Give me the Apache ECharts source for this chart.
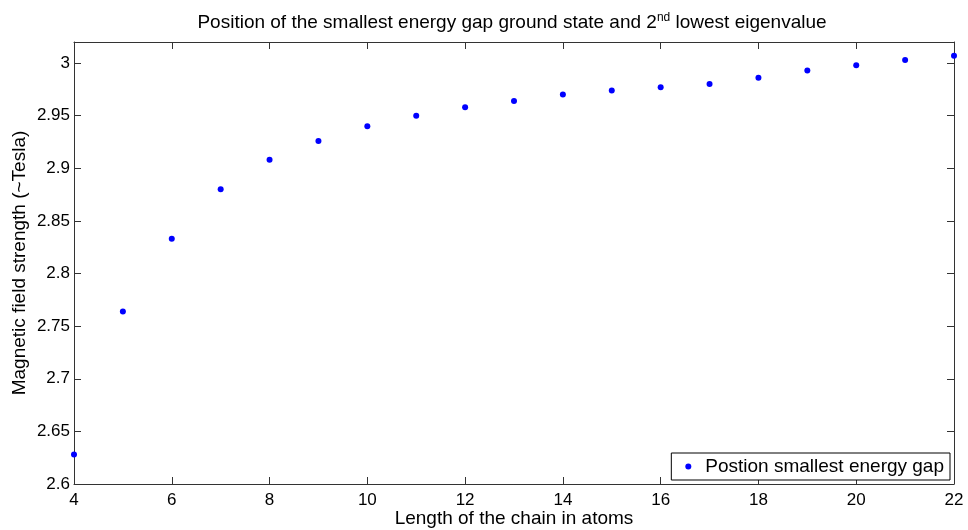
<!DOCTYPE html>
<html>
<head>
<meta charset="utf-8">
<script src="https://cdn.jsdelivr.net/npm/echarts@6/dist/echarts.min.js"></script>
<style>html,body{margin:0;padding:0;background:#fff}#c{width:968px;height:530px}</style>
</head>
<body>
<div id="c"></div>
<script>
var chainLength = [4, 5, 6, 7, 8, 9, 10, 11, 12, 13, 14, 15, 16, 17, 18, 19, 20, 21, 22];
var fieldStrength = [2.628, 2.764, 2.833, 2.880, 2.908, 2.926, 2.940, 2.950, 2.958, 2.964, 2.970, 2.974, 2.977, 2.980, 2.986, 2.993, 2.998, 3.003, 3.007];
var seriesName = 'Postion smallest energy gap';
var xTitle = 'Length of the chain in atoms';
var yTitle = 'Magnetic field strength (~Tesla)';

var font = 'Liberation Sans, Arial, sans-serif';
var axisColor = '#333';
var chart = echarts.init(document.getElementById('c'), null, {renderer: 'canvas'});
var pts = chainLength.map(function (x, i) { return [x, fieldStrength[i]]; });
function yFmt(v) {
  var k = Math.round(v / 0.05);
  if (Math.abs(v - k * 0.05) > 1e-6) return '';
  return String(Math.round(v * 100) / 100);
}
chart.setOption({
  animation: false,
  backgroundColor: '#fff',
  title: {
    text: '{a|Position of the smallest energy gap ground state and 2}{s|nd}{a| lowest eigenvalue}',
    left: 507, top: 6, textAlign: 'center',
    textStyle: {
      fontWeight: 'normal',
      rich: {
        a: {fontFamily: font, fontSize: 19, fontWeight: 'normal', color: '#000', lineHeight: 24},
        s: {fontFamily: font, fontSize: 12, fontWeight: 'normal', color: '#000', padding: [0, 0, 10, 0], lineHeight: 24}
      }
    }
  },
  grid: {left: 74, right: 14, top: 42, bottom: 46, outerBoundsMode: 'none', containLabel: false},
  legend: {
    right: 18, top: 453,
    data: [seriesName],
    icon: 'circle', itemWidth: 6, itemHeight: 6,
    padding: [4, 6, 4, 14],
    borderColor: '#000', borderWidth: 1, backgroundColor: '#fff',
    textStyle: {fontFamily: font, fontSize: 19, color: '#000', padding: [0, 0, 0, 9]}
  },
  xAxis: [{
    type: 'value', min: 4, max: 22, interval: 2, position: 'bottom',
    name: xTitle, nameLocation: 'middle', nameGap: 25, nameMoveOverlap: false,
    nameTextStyle: {fontFamily: font, fontSize: 19, color: '#000'},
    axisLine: {show: true, lineStyle: {color: axisColor, width: 1}},
    axisTick: {show: true, inside: true, length: 7, lineStyle: {color: axisColor}},
    axisLabel: {fontFamily: font, fontSize: 17, color: '#000', margin: 8},
    splitLine: {show: false}
  }, {
    type: 'value', min: 4, max: 22, interval: 2, position: 'top',
    axisLine: {show: true, lineStyle: {color: axisColor, width: 1}},
    axisTick: {show: true, inside: true, length: 7, lineStyle: {color: axisColor}},
    axisLabel: {show: false}, splitLine: {show: false}
  }],
  yAxis: [{
    type: 'value', min: 2.6, max: 3.02, interval: 0.05, position: 'left',
    name: yTitle, nameLocation: 'middle', nameGap: 45, nameMoveOverlap: false,
    nameTextStyle: {fontFamily: font, fontSize: 19, color: '#000'},
    axisLine: {show: true, lineStyle: {color: axisColor, width: 1}},
    axisTick: {show: true, inside: true, length: 7, lineStyle: {color: axisColor}},
    axisLabel: {fontFamily: font, fontSize: 17, color: '#000', margin: 4, formatter: yFmt},
    splitLine: {show: false}
  }, {
    type: 'value', min: 2.6, max: 3.02, interval: 0.05, position: 'right',
    axisLine: {show: true, lineStyle: {color: axisColor, width: 1}},
    axisTick: {show: true, inside: true, length: 7, lineStyle: {color: axisColor}},
    axisLabel: {show: false}, splitLine: {show: false}
  }],
  series: [{
    name: seriesName, type: 'scatter', xAxisIndex: 0, yAxisIndex: 0,
    symbol: 'circle', symbolSize: 6,
    itemStyle: {color: '#0000ff', opacity: 1},
    data: pts
  }]
});
</script>
</body>
</html>
